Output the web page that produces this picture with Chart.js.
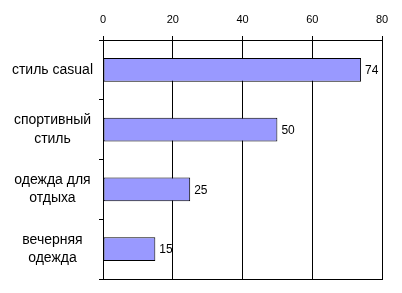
<!DOCTYPE html>
<html>
<head>
<meta charset="utf-8">
<script src="https://cdn.jsdelivr.net/npm/chart.js@4"></script>
<style>
html, body { margin: 0; padding: 0; background: #fff; }
</style>
</head>
<body>
<canvas id="myChart" width="402" height="293"></canvas>
<script>
const categories = ['стиль casual', ['спортивный', 'стиль'], ['одежда для', 'отдыха'], ['вечерняя', 'одежда']];
const values = [74, 50, 25, 15];
const xTicks = [0, 20, 40, 60, 80];

const fontFamily = '"Liberation Sans", Arial, sans-serif';

// numbers to the right of each bar
const valueLabels = {
	id: 'valueLabels',
	afterDatasetsDraw(chart) {
		const ctx = chart.ctx;
		const meta = chart.getDatasetMeta(0);
		ctx.save();
		ctx.font = '12px ' + fontFamily;
		ctx.fillStyle = '#000';
		ctx.textAlign = 'left';
		ctx.textBaseline = 'middle';
		meta.data.forEach((bar, i) => {
			ctx.fillText(values[i], bar.x + 4, bar.y + 1);
		});
		ctx.restore();
	}
};

// bottom edge of the plot frame
const frameBottom = {
	id: 'frameBottom',
	afterDraw(chart) {
		const { ctx, chartArea } = chart;
		const y = Math.round(chartArea.bottom) + 0.5;
		ctx.save();
		ctx.strokeStyle = '#000';
		ctx.lineWidth = 1;
		ctx.beginPath();
		ctx.moveTo(chartArea.left - 4, y);
		ctx.lineTo(chartArea.right + 1, y);
		ctx.stroke();
		ctx.restore();
	}
};

const ctx = document.getElementById('myChart').getContext('2d');
const myChart = new Chart(ctx, {
	type: 'bar',
	data: {
		labels: categories,
		datasets: [{
			data: values,
			backgroundColor: '#9999ff',
			borderColor: '#000',
			borderWidth: 1,
			borderSkipped: false,
			categoryPercentage: 1,
			barPercentage: 0.4,
		}]
	},
	options: {
		indexAxis: 'y',
		responsive: false,
		animation: false,
		layout: {
			padding: { top: 14, bottom: 14, left: 10, right: 20 }
		},
		plugins: {
			legend: { display: false },
			title: { display: false },
			tooltip: { enabled: false }
		},
		scales: {
			x: {
				position: 'top',
				min: 0,
				max: 80,
				afterBuildTicks: s => { s.ticks = xTicks.map(v => ({ value: v })); },
				afterFit: s => { s.height = 26; s.paddingLeft = 0; s.paddingRight = 0; },
				grid: {
					color: '#000',
					lineWidth: 1,
					tickLength: 4,
					tickColor: '#000'
				},
				border: { display: true, color: '#000' },
				ticks: {
					color: '#000',
					padding: 9,
					maxRotation: 0,
					font: { family: fontFamily, size: 11 }
				}
			},
			y: {
				afterFit: s => { s.width = 93; s.paddingTop = 0; s.paddingBottom = 0; },
				grid: {
					offset: true,
					drawOnChartArea: false,
					tickColor: '#000',
					tickLength: 4,
					lineWidth: 1
				},
				border: { display: true, color: '#000' },
				ticks: {
					color: '#000',
					padding: 6,
					crossAlign: 'center',
					font: { family: fontFamily, size: 14, lineHeight: 1.3 }
				}
			}
		}
	},
	plugins: [valueLabels, frameBottom]
});
</script>
</body>
</html>
